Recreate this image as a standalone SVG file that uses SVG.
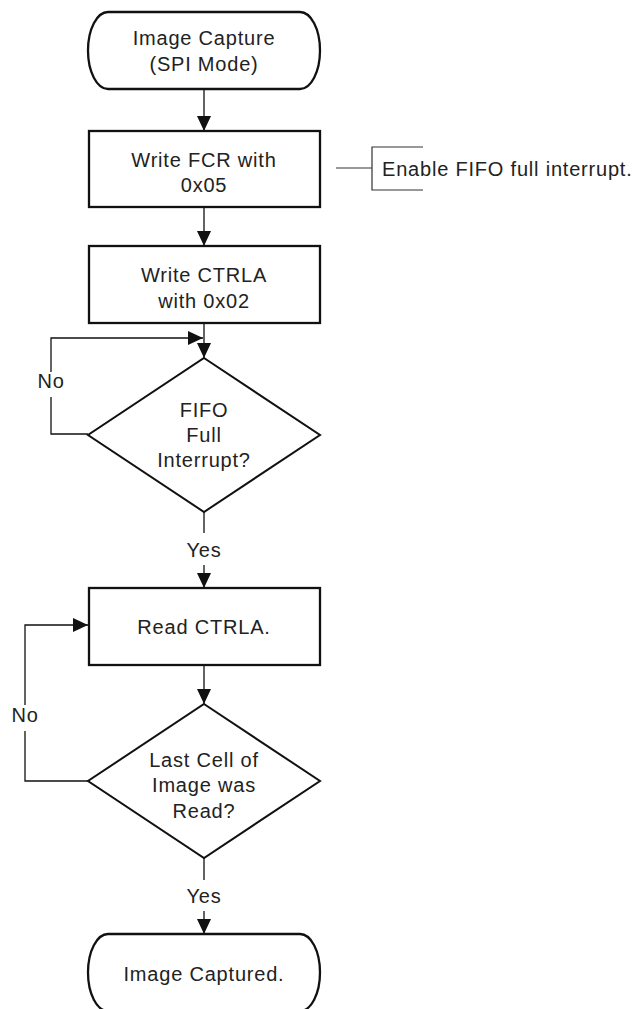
<svg xmlns="http://www.w3.org/2000/svg" width="635" height="1009" viewBox="0 0 635 1009">
  <style>
    .shape { fill: #fff; stroke: #111; stroke-width: 2.3; }
    .dec { fill: #fff; stroke: #111; stroke-width: 2; }
    .line { fill: none; stroke: #111; stroke-width: 1.3; }
    .note { fill: none; stroke: #333; stroke-width: 1.2; }
    text { font-family: "Liberation Sans", Arial, sans-serif; font-size: 20px; letter-spacing: 0.8px; fill: #222; text-anchor: middle; }
    .left { text-anchor: start; }
  </style>
  <defs>
    <marker id="arrow" markerUnits="userSpaceOnUse" markerWidth="15" markerHeight="14" refX="15" refY="7" orient="auto">
      <path d="M0,0 L15,7 L0,14 z" fill="#111"/>
    </marker>
  </defs>

  <!-- connectors -->
  <g id="connectors">
    <line class="line" x1="204" y1="89" x2="204" y2="131" marker-end="url(#arrow)"/>
    <line class="line" x1="204" y1="207" x2="204" y2="246" marker-end="url(#arrow)"/>
    <line class="line" x1="204" y1="323" x2="204" y2="358" marker-end="url(#arrow)"/>
    <!-- "No" loop back above the first decision -->
    <polyline class="line" points="88,434 51,434 51,397"/>
    <polyline class="line" points="51,372 51,338 203,338" marker-end="url(#arrow)"/>
    <text x="51" y="388">No</text>
    <!-- "Yes" down to Read CTRLA -->
    <line class="line" x1="204" y1="512" x2="204" y2="533"/>
    <text x="204" y="557">Yes</text>
    <line class="line" x1="204" y1="565" x2="204" y2="588" marker-end="url(#arrow)"/>
    <line class="line" x1="204" y1="665" x2="204" y2="704" marker-end="url(#arrow)"/>
    <!-- "No" loop back to Read CTRLA -->
    <polyline class="line" points="88,781 25,781 25,731"/>
    <polyline class="line" points="25,705 25,625 88,625" marker-end="url(#arrow)"/>
    <text x="25" y="722">No</text>
    <!-- "Yes" down to end -->
    <line class="line" x1="204" y1="858" x2="204" y2="880"/>
    <text x="204" y="903">Yes</text>
    <line class="line" x1="204" y1="911" x2="204" y2="934" marker-end="url(#arrow)"/>
  </g>

  <g id="start">
    <rect class="shape" x="88" y="12" width="232" height="77" rx="20" ry="38.5"/>
    <text x="204" y="45">Image Capture</text>
    <text x="204" y="71">(SPI Mode)</text>
  </g>

  <g id="write-fcr">
    <rect class="shape" x="89" y="131" width="231" height="76"/>
    <text x="204" y="167">Write FCR with</text>
    <text x="204" y="192">0x05</text>
  </g>

  <g id="fcr-note">
    <line class="note" x1="336" y1="168" x2="372" y2="168"/>
    <polyline class="note" points="423,147 372,147 372,190 423,190"/>
    <text class="left" x="382" y="176">Enable FIFO full interrupt.</text>
  </g>

  <g id="write-ctrla">
    <rect class="shape" x="89" y="246" width="231" height="77"/>
    <text x="204" y="282">Write CTRLA</text>
    <text x="204" y="308">with 0x02</text>
  </g>

  <g id="fifo-full">
    <polygon class="dec" points="204,358 320,435 204,512 88,435"/>
    <text x="204" y="417">FIFO</text>
    <text x="204" y="442">Full</text>
    <text x="204" y="467">Interrupt?</text>
  </g>

  <g id="read-ctrla">
    <rect class="shape" x="89" y="588" width="231" height="77"/>
    <text x="204" y="634">Read CTRLA.</text>
  </g>

  <g id="last-cell">
    <polygon class="dec" points="204,704 320,781 204,858 88,781"/>
    <text x="204" y="767">Last Cell of</text>
    <text x="204" y="792">Image was</text>
    <text x="204" y="818">Read?</text>
  </g>

  <g id="end">
    <rect class="shape" x="88" y="934" width="232" height="77" rx="20" ry="38.5"/>
    <text x="204" y="981">Image Captured.</text>
  </g>
</svg>
